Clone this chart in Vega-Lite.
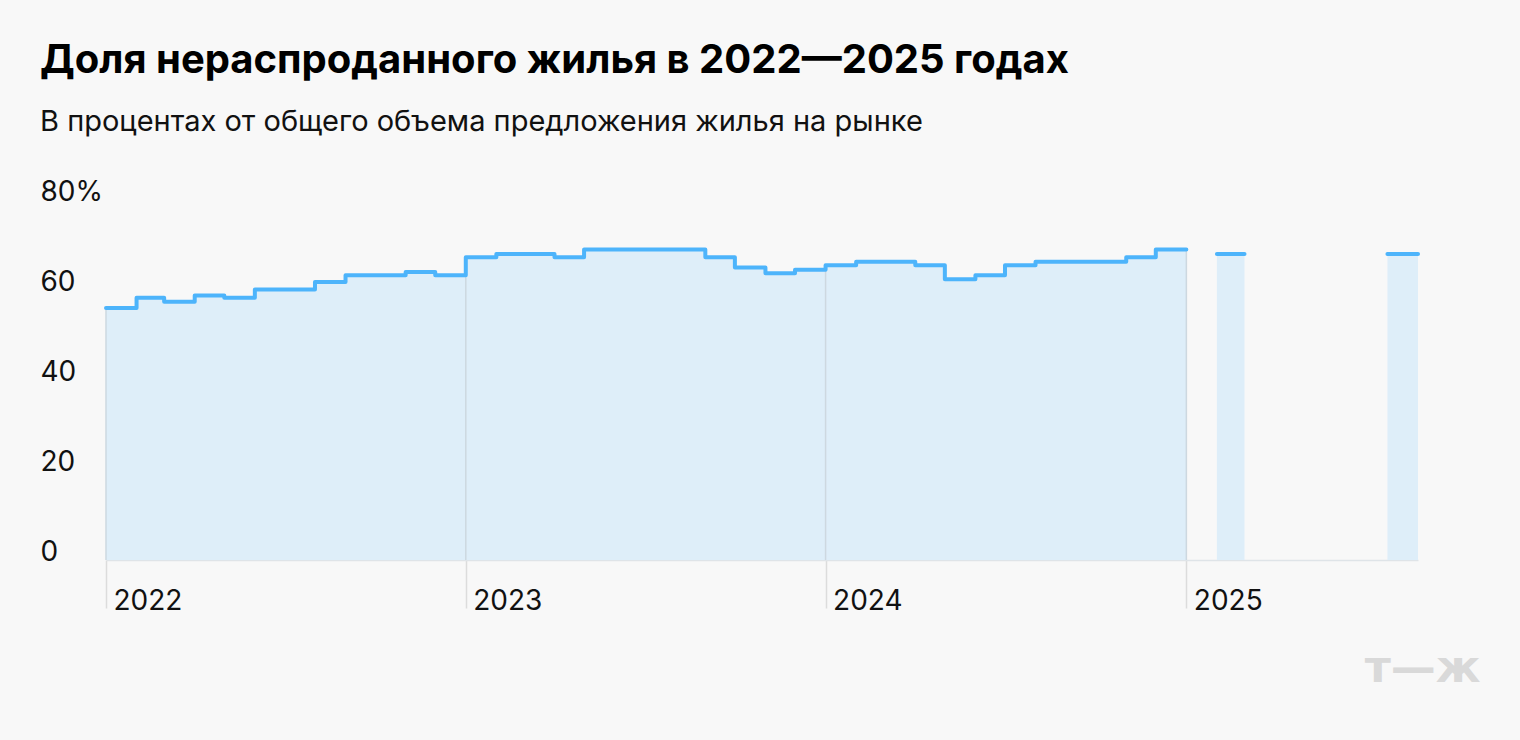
{
  "$schema": "https://vega.github.io/schema/vega-lite/v6.json",
  "autosize": {"type": "none"},
  "width": 1312,
  "height": 360,
  "padding": {"left": 106, "top": 200, "right": 102, "bottom": 180},
  "background": "#f8f8f8",
  "title": {
    "text": "Доля нераспроданного жилья в 2022—2025 годах",
    "subtitle": "В процентах от общего объема предложения жилья на рынке",
    "anchor": "start",
    "frame": "bounds",
    "font": "Inter",
    "fontSize": 40,
    "fontWeight": "bold",
    "color": "#000000",
    "subtitleFont": "Inter",
    "subtitleFontSize": 29,
    "subtitleColor": "#111111",
    "subtitlePadding": 27,
    "offset": 41
  },
  "data": {
    "values": [
      {"d": "2022-01-01", "v": 56.0, "s": 1},
      {"d": "2022-02-01", "v": 58.3, "s": 1},
      {"d": "2022-03-01", "v": 57.4, "s": 1},
      {"d": "2022-04-01", "v": 58.8, "s": 1},
      {"d": "2022-05-01", "v": 58.3, "s": 1},
      {"d": "2022-06-01", "v": 60.1, "s": 1},
      {"d": "2022-07-01", "v": 60.1, "s": 1},
      {"d": "2022-08-01", "v": 61.8, "s": 1},
      {"d": "2022-09-01", "v": 63.3, "s": 1},
      {"d": "2022-10-01", "v": 63.3, "s": 1},
      {"d": "2022-11-01", "v": 64.0, "s": 1},
      {"d": "2022-12-01", "v": 63.3, "s": 1},
      {"d": "2023-01-01", "v": 67.3, "s": 1},
      {"d": "2023-02-01", "v": 68.0, "s": 1},
      {"d": "2023-03-01", "v": 68.0, "s": 1},
      {"d": "2023-04-01", "v": 67.3, "s": 1},
      {"d": "2023-05-01", "v": 69.0, "s": 1},
      {"d": "2023-06-01", "v": 69.0, "s": 1},
      {"d": "2023-07-01", "v": 69.0, "s": 1},
      {"d": "2023-08-01", "v": 69.0, "s": 1},
      {"d": "2023-09-01", "v": 67.3, "s": 1},
      {"d": "2023-10-01", "v": 65.0, "s": 1},
      {"d": "2023-11-01", "v": 63.7, "s": 1},
      {"d": "2023-12-01", "v": 64.5, "s": 1},
      {"d": "2024-01-01", "v": 65.5, "s": 1},
      {"d": "2024-02-01", "v": 66.3, "s": 1},
      {"d": "2024-03-01", "v": 66.3, "s": 1},
      {"d": "2024-04-01", "v": 65.5, "s": 1},
      {"d": "2024-05-01", "v": 62.4, "s": 1},
      {"d": "2024-06-01", "v": 63.3, "s": 1},
      {"d": "2024-07-01", "v": 65.5, "s": 1},
      {"d": "2024-08-01", "v": 66.3, "s": 1},
      {"d": "2024-09-01", "v": 66.3, "s": 1},
      {"d": "2024-10-01", "v": 66.3, "s": 1},
      {"d": "2024-11-01", "v": 67.3, "s": 1},
      {"d": "2024-12-01", "v": 69.0, "s": 1},
      {"d": "2025-01-01", "v": 69.0, "s": 1},
      {"d": "2025-02-01", "v": 68.0, "s": 2},
      {"d": "2025-03-01", "v": 68.0, "s": 2},
      {"d": "2025-07-24", "v": 68.0, "s": 3},
      {"d": "2025-08-24", "v": 68.0, "s": 3}
    ],
    "format": {"parse": {"d": "utc:'%Y-%m-%d'"}}
  },
  "encoding": {
    "x": {
      "field": "d",
      "type": "temporal",
      "scale": {"type": "utc", "domain": [{"year": 2022, "month": 1, "date": 1, "utc": true}, {"year": 2025, "month": 8, "date": 24, "utc": true}]},
      "axis": {
        "title": "т—ж",
        "titleFont": "DejaVu Sans",
        "titleFontSize": 45,
        "titleFontWeight": "bold",
        "titleColor": "#d9d9d9",
        "titleAlign": "right",
        "titleBaseline": "alphabetic",
        "titleX": 1374,
        "titleY": 121,
        "format": "%Y",
        "tickCount": {"interval": "year", "step": 1},
        "grid": false,
        "domain": true,
        "domainColor": "#dfe4e8",
        "domainWidth": 1.5,
        "ticks": true,
        "tickSize": 48,
        "tickColor": "#dcdcdc",
        "tickWidth": 1.5,
        "labelFont": "Inter",
        "labelFontSize": 28,
        "labelColor": "#111111",
        "labelAlign": "left",
        "labelBaseline": "alphabetic",
        "labelOffset": 7,
        "labelPadding": 1,
        "labelFlush": false,
        "labelOverlap": false
      }
    },
    "y": {
      "field": "v",
      "type": "quantitative",
      "stack": null,
      "scale": {"domain": [0, 80], "nice": false},
      "axis": {
        "title": null,
        "values": [0, 20, 40, 60, 80],
        "grid": false,
        "domain": false,
        "ticks": false,
        "labelFont": "Inter",
        "labelFontSize": 28,
        "labelColor": "#111111",
        "labelAlign": "left",
        "labelBaseline": "alphabetic",
        "labelPadding": 66,
        "labelExpr": "datum.value == 80 ? '80%' : datum.label",
        "encode": {"labels": {"update": {"dx": {"signal": "datum.value == 0 ? 17 : 0"}}}}
      }
    }
  },
  "layer": [
    {
      "mark": {"type": "area", "interpolate": "step-after", "color": "#deeef9", "opacity": 1},
      "encoding": {"detail": {"field": "s", "type": "nominal"}}
    },
    {
      "transform": [{"filter": "utcmonth(datum.d) == 0 && utcdate(datum.d) == 1"}],
      "mark": {"type": "rule", "color": "#cdd8e0", "strokeWidth": 1.5},
      "encoding": {"y2": {"datum": 0}}
    },
    {
      "mark": {"type": "line", "interpolate": "step-after", "color": "#4db4fb", "strokeWidth": 4, "strokeCap": "round", "strokeJoin": "round"},
      "encoding": {"detail": {"field": "s", "type": "nominal"}}
    }
  ],
  "config": {"view": {"stroke": null}}
}
